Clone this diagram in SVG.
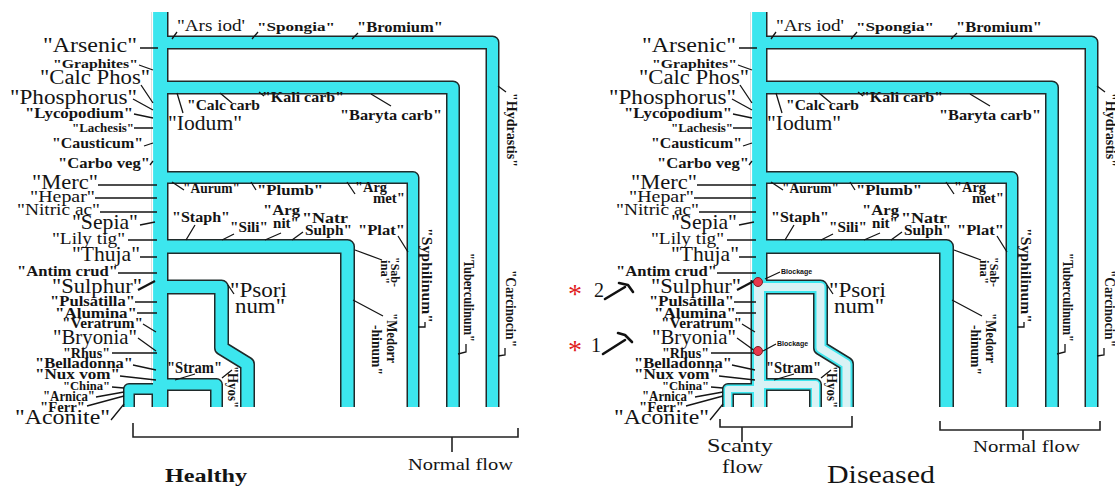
<svg xmlns="http://www.w3.org/2000/svg" xmlns:xlink="http://www.w3.org/1999/xlink" width="1115" height="487" viewBox="0 0 1115 487">
<style>
.t{font-family:"Liberation Serif","Times New Roman",serif;fill:#141414}
.b{font-weight:bold}
.ld{stroke:#151515;stroke-width:1.3;fill:none}
.po{fill:none;stroke:#1f2a2a;stroke-linejoin:round;stroke-linecap:butt}
.pc{fill:none;stroke:#3ce6ee;stroke-linejoin:round;stroke-linecap:butt}
.pl{fill:none;stroke:#d9f2f5;stroke-linejoin:round;stroke-linecap:butt}
.br{stroke:#222;stroke-width:1.6;fill:none}
.bk{font-family:"Liberation Sans",Arial,sans-serif;font-weight:bold;font-size:7px;fill:#111}
.ast{font-family:"Liberation Serif",serif;fill:#e02020}
.ham{stroke:#111;stroke-width:2.6;fill:none;stroke-linecap:round;stroke-linejoin:round}
</style>
<defs>
<g id="labels">
<g id="leaders" class="ld">
<path d="M140,48H158M139,65L153,70M141,85L153,103M133,99L153,110M134,114L153,118M134,128H153M144,146L153,143M150,165L153,161M98,185H157M95,198H157M100,212H157M140,225L155,222M128,240H157M140,257H157M118,273H157M135,302H157M137,313H157M143,324L156,332M138,338L156,351M112,353H157M133,365L156,370M120,376L156,380M112,387L124,388M96,397L124,392M87,406L124,396M111,420L124,404"/>
<path d="M138,290L155,281" stroke-width="2.2"/>
<path d="M177,32L172,39M258,32L252,39M358,33L352,39M220,93L232,103M177,93L183,113M264,96L259,92M371,94L391,106M498,86L506,92M172,182L184,190M251,182L256,190M347,182L355,194M195,225L186,240M234,234L222,240M281,233L265,240M303,232L292,240M398,236L408,252M355,250L382,260M425,322V327H418M466,344V352L458,354M505,348V355L498,356M353,300L383,316M228,285L234,294M175,380L195,374M222,378L232,370"/>
</g>
<g id="outer-labels" class="t">
<text x="43" y="52" font-size="20" textLength="94" lengthAdjust="spacingAndGlyphs">"Arsenic"</text>
<text class="b" x="53" y="68" font-size="13" textLength="85" lengthAdjust="spacingAndGlyphs">"Graphites"</text>
<text x="40" y="84" font-size="20" textLength="110" lengthAdjust="spacingAndGlyphs">"Calc Phos"</text>
<text x="10" y="104" font-size="20" textLength="127" lengthAdjust="spacingAndGlyphs">"Phosphorus"</text>
<text class="b" x="25" y="118" font-size="14" textLength="108" lengthAdjust="spacingAndGlyphs">"Lycopodium"</text>
<text class="b" x="72" y="132" font-size="12" textLength="62" lengthAdjust="spacingAndGlyphs">"Lachesis"</text>
<text class="b" x="52" y="148" font-size="14" textLength="91" lengthAdjust="spacingAndGlyphs">"Causticum"</text>
<text class="b" x="58" y="168" font-size="14" textLength="92" lengthAdjust="spacingAndGlyphs">"Carbo veg"</text>
<text x="32" y="189" font-size="21" textLength="66" lengthAdjust="spacingAndGlyphs">"Merc"</text>
<text x="30" y="202" font-size="17" textLength="65" lengthAdjust="spacingAndGlyphs">"Hepar"</text>
<text x="17" y="215" font-size="17" textLength="83" lengthAdjust="spacingAndGlyphs">"Nitric ac"</text>
<text x="72" y="229" font-size="21" textLength="66" lengthAdjust="spacingAndGlyphs">"Sepia"</text>
<text x="52" y="244" font-size="16" textLength="73" lengthAdjust="spacingAndGlyphs">"Lily tig"</text>
<text x="72" y="261" font-size="21" textLength="68" lengthAdjust="spacingAndGlyphs">"Thuja"</text>
<text class="b" x="17" y="276" font-size="14" textLength="101" lengthAdjust="spacingAndGlyphs">"Antim crud"</text>
<text x="52" y="293" font-size="21" textLength="90" lengthAdjust="spacingAndGlyphs">"Sulphur"</text>
<text class="b" x="50" y="306" font-size="14" textLength="85" lengthAdjust="spacingAndGlyphs">"Pulsatilla"</text>
<text class="b" x="55" y="318" font-size="14" textLength="82" lengthAdjust="spacingAndGlyphs">"Alumina"</text>
<text class="b" x="62" y="328" font-size="14" textLength="81" lengthAdjust="spacingAndGlyphs">"Veratrum"</text>
<text x="53" y="344" font-size="21" textLength="84" lengthAdjust="spacingAndGlyphs">"Bryonia"</text>
<text class="b" x="63" y="358" font-size="15" textLength="47" lengthAdjust="spacingAndGlyphs">"Rhus"</text>
<text class="b" x="35" y="368" font-size="14" textLength="98" lengthAdjust="spacingAndGlyphs">"Belladonna"</text>
<text class="b" x="35" y="379" font-size="14" textLength="85" lengthAdjust="spacingAndGlyphs">"Nux vom"</text>
<text class="b" x="63" y="390" font-size="13" textLength="47" lengthAdjust="spacingAndGlyphs">"China"</text>
<text class="b" x="43" y="401" font-size="14" textLength="52" lengthAdjust="spacingAndGlyphs">"Arnica"</text>
<text class="b" x="40" y="412" font-size="14" textLength="45" lengthAdjust="spacingAndGlyphs">"Ferr"</text>
<text x="15" y="424" font-size="21" textLength="95" lengthAdjust="spacingAndGlyphs">"Aconite"</text>
</g>
<g id="inner-labels" class="t">
<text x="177" y="31" font-size="16" textLength="68" lengthAdjust="spacingAndGlyphs">"Ars iod'</text>
<text class="b" x="257" y="31" font-size="13" textLength="78" lengthAdjust="spacingAndGlyphs">"Spongia"</text>
<text class="b" x="357" y="32" font-size="14" textLength="86" lengthAdjust="spacingAndGlyphs">"Bromium"</text>
<text class="b" x="187" y="110" font-size="15" textLength="73" lengthAdjust="spacingAndGlyphs">"Calc carb</text>
<text class="b" x="262" y="102" font-size="15" textLength="82" lengthAdjust="spacingAndGlyphs">"Kali carb"</text>
<text class="b" x="340" y="120" font-size="15" textLength="102" lengthAdjust="spacingAndGlyphs">"Baryta carb"</text>
<text x="168" y="130" font-size="20" textLength="74" lengthAdjust="spacingAndGlyphs">"Iodum"</text>
<text class="b" transform="translate(507,93) rotate(90)" font-size="15" textLength="74" lengthAdjust="spacingAndGlyphs">"Hydrastis"</text>
<text class="b" x="183" y="193" font-size="14" textLength="57" lengthAdjust="spacingAndGlyphs">"Aurum"</text>
<text class="b" x="257" y="195" font-size="15" textLength="66" lengthAdjust="spacingAndGlyphs">"Plumb"</text>
<text class="b" x="355" y="192" font-size="14" textLength="32" lengthAdjust="spacingAndGlyphs">"Arg</text>
<text class="b" x="373" y="203" font-size="14" textLength="32" lengthAdjust="spacingAndGlyphs">met"</text>
<text class="b" x="172" y="222" font-size="15" textLength="58" lengthAdjust="spacingAndGlyphs">"Staph"</text>
<text class="b" x="230" y="232" font-size="14" textLength="38" lengthAdjust="spacingAndGlyphs">"Sili"</text>
<text class="b" x="263" y="215" font-size="15" textLength="37" lengthAdjust="spacingAndGlyphs">"Arg</text>
<text class="b" x="273" y="228" font-size="14" textLength="26" lengthAdjust="spacingAndGlyphs">nit"</text>
<text class="b" x="302" y="223" font-size="15" textLength="46" lengthAdjust="spacingAndGlyphs">"Natr</text>
<text class="b" x="305" y="235" font-size="15" textLength="47" lengthAdjust="spacingAndGlyphs">Sulph"</text>
<text class="b" x="358" y="235" font-size="15" textLength="47" lengthAdjust="spacingAndGlyphs">"Plat"</text>
<text class="b" transform="translate(391,257) rotate(90)" font-size="13" textLength="30" lengthAdjust="spacingAndGlyphs">"Sab-</text>
<text class="b" transform="translate(381,260) rotate(90)" font-size="13" textLength="24" lengthAdjust="spacingAndGlyphs">ina"</text>
<text class="b" transform="translate(422,228) rotate(90)" font-size="15" textLength="95" lengthAdjust="spacingAndGlyphs">"Syphilinum"</text>
<text class="b" transform="translate(464,253) rotate(90)" font-size="15" textLength="89" lengthAdjust="spacingAndGlyphs">"Tuberculinum"</text>
<text class="b" transform="translate(506,270) rotate(90)" font-size="15" textLength="77" lengthAdjust="spacingAndGlyphs">"Carcinocin"</text>
<text class="b" transform="translate(387,313) rotate(90)" font-size="15" textLength="50" lengthAdjust="spacingAndGlyphs">"Medorr</text>
<text class="b" transform="translate(372,325) rotate(90)" font-size="15" textLength="50" lengthAdjust="spacingAndGlyphs">-hinum"</text>
<text x="230" y="297" font-size="21" textLength="57" lengthAdjust="spacingAndGlyphs">"Psori</text>
<text x="235" y="313" font-size="21" textLength="50" lengthAdjust="spacingAndGlyphs">num"</text>
<text class="b" x="167" y="373" font-size="16" textLength="55" lengthAdjust="spacingAndGlyphs">"Stram"</text>
<text class="b" transform="translate(228,366) rotate(90)" font-size="14" textLength="42" lengthAdjust="spacingAndGlyphs">"Hyos"</text>
</g>
</g>
</defs>
<rect width="1115" height="487" fill="#ffffff"/>

<g id="healthy">
<g id="healthy-pipes">
<path class="po" stroke-width="17" d="M160,12V407"/>
<path class="po" stroke-width="14" d="M160,42.5H492.5V407"/>
<path class="po" stroke-width="14" d="M160,87.5H453V407"/>
<path class="po" stroke-width="13" d="M160,177.5H413V407"/>
<path class="po" stroke-width="15" d="M160,246.5H347.5V407"/>
<path class="po" stroke-width="15" d="M160,287H221.5V348L247.5,364V407"/>
<path class="po" stroke-width="13" d="M160,384.5H216.5V407"/>
<path class="po" stroke-width="12" d="M160,389H129V407"/>
<path class="pc" stroke-width="14" d="M160,12V407"/>
<path class="pc" stroke-width="11" d="M160,42.5H492.5V407"/>
<path class="pc" stroke-width="11" d="M160,87.5H453V407"/>
<path class="pc" stroke-width="10" d="M160,177.5H413V407"/>
<path class="pc" stroke-width="12" d="M160,246.5H347.5V407"/>
<path class="pc" stroke-width="12" d="M160,287H221.5V348L247.5,364V407"/>
<path class="pc" stroke-width="10" d="M160,384.5H216.5V407"/>
<path class="pc" stroke-width="9" d="M160,389H129V407"/>
<line x1="152.2" y1="12" x2="152.2" y2="383" stroke="#ffffff" stroke-width="1.8"/>
</g>
<use xlink:href="#labels" href="#labels"/>
<g id="healthy-bracket">
<path class="br" d="M133,423V437H518V428M452,437V452"/>
<text class="t" x="408" y="470" font-size="17" textLength="105" lengthAdjust="spacingAndGlyphs">Normal flow</text>
<text class="t b" x="165" y="482" font-size="18" textLength="82" lengthAdjust="spacingAndGlyphs">Healthy</text>
</g>
</g>

<g id="diseased">
<g id="diseased-pipes" transform="translate(599,0)">
<path class="po" stroke-width="17" d="M160,12V407"/>
<path class="po" stroke-width="14" d="M160,42.5H492.5V407"/>
<path class="po" stroke-width="14" d="M160,87.5H453V407"/>
<path class="po" stroke-width="13" d="M160,177.5H413V407"/>
<path class="po" stroke-width="15" d="M160,246.5H347.5V407"/>
<path class="po" stroke-width="15" d="M160,287H221.5V348L247.5,364V407"/>
<path class="po" stroke-width="13" d="M160,384.5H216.5V407"/>
<path class="po" stroke-width="12" d="M160,389H129V407"/>
<path class="pc" stroke-width="14" d="M160,12V284"/>
<path class="pc" stroke-width="11" d="M160,42.5H492.5V407"/>
<path class="pc" stroke-width="11" d="M160,87.5H453V407"/>
<path class="pc" stroke-width="10" d="M160,177.5H413V407"/>
<path class="pc" stroke-width="12" d="M160,246.5H347.5V407"/>
<path class="pc" stroke-width="14" d="M160,282V407"/>
<path class="pc" stroke-width="12" d="M160,287H221.5V348L247.5,364V407"/>
<path class="pc" stroke-width="10" d="M160,384.5H216.5V407"/>
<path class="pc" stroke-width="9" d="M160,389H129V407"/>
<path class="pl" stroke-width="10" d="M160,284V407"/>
<path class="pl" stroke-width="8" d="M160,287H221.5V348L247.5,364V407"/>
<path class="pl" stroke-width="7" d="M160,384.5H216.5V407"/>
<path class="pl" stroke-width="6" d="M160,389H129V407"/>
<line x1="152.2" y1="12" x2="152.2" y2="280" stroke="#ffffff" stroke-width="1.8"/>
</g>
<use xlink:href="#labels" href="#labels" x="599"/>
<g id="blockages">
<circle cx="758" cy="282" r="4.5" fill="#e8364a" stroke="#7a1f25" stroke-width="1"/>
<circle cx="758" cy="351" r="4.5" fill="#e8364a" stroke="#7a1f25" stroke-width="1"/>
<path class="ld" d="M765,279L780,272M763,351L776,344"/>
<text class="bk" x="781" y="274">Blockage</text>
<text class="bk" x="777" y="346">Blockage</text>
</g>
<g id="hammer-2">
<text class="ast" x="568" y="303" font-size="28">*</text>
<text class="t" x="594" y="297" font-size="20">2</text>
<path class="ham" d="M605,299L625,287"/>
<path class="ham" d="M619,283L628,285L633,292"/>
</g>
<g id="hammer-1">
<text class="ast" x="568" y="359" font-size="28">*</text>
<text class="t" x="591" y="352" font-size="20">1</text>
<path class="ham" d="M603,354L625,340"/>
<path class="ham" d="M618,333L625,335L632,342"/>
</g>
<g id="diseased-brackets">
<path class="br" d="M720,419V427H852V416M742,427V442"/>
<text class="t" x="707" y="452" font-size="19" textLength="66" lengthAdjust="spacingAndGlyphs">Scanty</text>
<text class="t" x="722" y="473" font-size="19" textLength="41" lengthAdjust="spacingAndGlyphs">flow</text>
<path class="br" d="M940,421V430H1100V421M1023,430V440"/>
<text class="t" x="973" y="452" font-size="17" textLength="107" lengthAdjust="spacingAndGlyphs">Normal flow</text>
<text class="t" x="827" y="483" font-size="25" textLength="108" lengthAdjust="spacingAndGlyphs">Diseased</text>
</g>
</g>
</svg>
